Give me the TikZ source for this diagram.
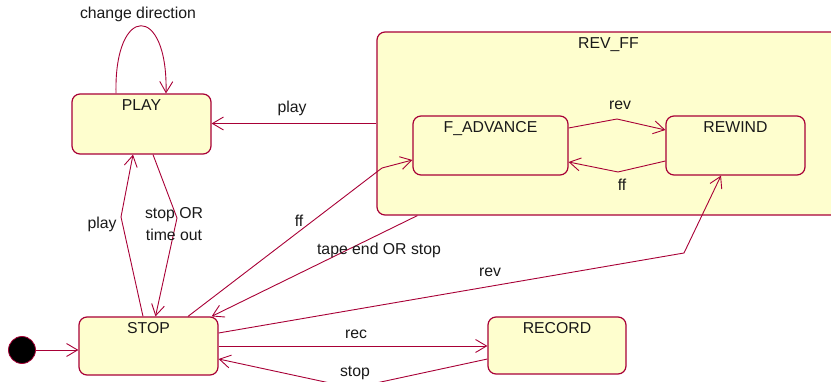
\documentclass[tikz,border=0pt]{standalone}
\usepackage{fontspec}
\setmainfont{Liberation Sans}
\usepackage{tikz}
\usetikzlibrary{arrows.meta,positioning,calc}
\definecolor{umlred}{HTML}{A80036}
\definecolor{umlfill}{HTML}{FEFECE}

\begin{document}
\begin{tikzpicture}[x=1pt,y=-1pt,
    font=\fontsize{15.8}{22}\selectfont,
    state/.style={draw=umlred, line width=1.2pt, fill=umlfill, rounded corners=8pt, inner sep=0pt},
    title/.style={inner sep=0pt, text=black!90},
    trans/.style={draw=umlred, line width=0.9pt, -{Straight Barb[length=11pt,width=13pt]}},
    lbl/.style={inner sep=0pt, text=black!90, align=center}]
    \useasboundingbox (0,0) rectangle (831,382);

    % composite state with its two sub-states
    \node[state, minimum width=463pt, minimum height=183pt] (revff) at (608.5,123.5) {};
    \node[title, below=6pt of revff.north] (revffT) {REV\_FF};
    \node[state, minimum width=155pt, minimum height=59pt] (fadv) at (490.5,145.5) {};
    \node[title, below=6pt of fadv.north] (fadvT) {F\_ADVANCE};
    \node[state, minimum width=139pt, minimum height=59pt] (rewind) at (735.5,145.5) {};
    \node[title, below=6pt of rewind.north] (rewindT) {REWIND};

    % simple states
    \node[state, minimum width=139pt, minimum height=60pt] (play) at (141.5,124) {};
    \node[title, below=6pt of play.north] (playT) {PLAY};
    \node[state, minimum width=139pt, minimum height=58pt] (stop) at (148.5,346) {};
    \node[title, below=6pt of stop.north] (stopT) {STOP};
    \node[state, minimum width=138pt, minimum height=57pt] (record) at (557,345.5) {};
    \node[title, below=6pt of record.north] (recordT) {RECORD};

    % initial pseudo-state
    \node[circle, fill=black, draw=umlred, line width=0.8pt, minimum size=27pt, inner sep=0pt] (init) at (22,350) {};

    % transitions
    \draw[trans] (init.east) -- (init.east -| stop.west);
    \draw[trans] ($(play.north)+(-25.5,0)$) .. controls +(-2,-90) and +(2,-90) .. ($(play.north)+(24.5,0)$)
        node[lbl] at (138,14) {change direction};
    \draw[trans] (revff.west) -- (revff.west -| play.east)
        node[lbl] at (292,108) {play};
    \draw[trans] ($(stop.north)+(-5.5,0)$) -- (121,217) -- ($(play.south)+(-8.5,0)$)
        node[lbl] at (102,224) {play};
    \draw[trans] ($(play.south)+(11.5,0)$) -- (177,218) -- ($(stop.north)+(7,0)$)
        node[lbl] at (174,224.5) {stop OR\\time out};
    \draw[trans] ($(stop.north)+(39.5,0)$) -- (382,168) -- ($(fadv.west)+(0,14.5)$)
        node[lbl] at (299,221) {ff};
    \draw[trans] ($(revff.south west)+(41,0)$) -- ($(stop.north east)+(-7,0)$)
        node[lbl] at (379,250) {tape end OR stop};
    \draw[trans] ($(stop.east)+(0,-13)$) -- (684,253) -- ($(rewind.south)+(-14.5,0)$)
        node[lbl] at (490,272) {rev};
    \draw[trans] (stop.east) -- (stop.east -| record.west)
        node[lbl] at (356,334) {rec};
    \draw[trans] ($(record.west)+(0,13.5)$) -- (353,388) -- ($(stop.east)+(0,13)$)
        node[lbl] at (355,373) {stop};
    \draw[trans] ($(fadv.east)+(0,-17.5)$) -- (617,119) -- ($(rewind.west)+(0,-15.5)$)
        node[lbl] at (620,105) {rev};
    \draw[trans] ($(rewind.west)+(0,15.5)$) -- (618,172) -- ($(fadv.east)+(0,16.5)$)
        node[lbl] at (622,185) {ff};
\end{tikzpicture}
\end{document}
